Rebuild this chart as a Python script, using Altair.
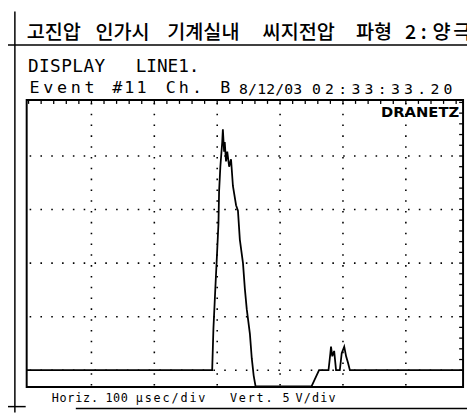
import altair as alt
import pandas as pd

# ---------------- data ----------------
time_us = [-3, 292, 294, 297, 300, 302, 303, 305, 308, 309,
           311, 312, 314, 316, 319, 322, 325, 330, 333, 336,
           341, 344, 347, 352, 355, 358, 361, 450, 462, 477,
           480, 481, 483, 486, 489, 495, 498, 502, 505, 508,
           511, 690]
volts = [0, 0, 3.9, 7.6, 11.2, 13.7, 16.7, 19.0, 21.3, 22.5,
         20.4, 21.3, 19.5, 20.4, 19.0, 19.7, 17.2, 15.4, 14.9, 12.2,
         10.0, 7.6, 5.7, 3.4, 1.1, -0.5, -1.5, -1.5, 0, 0,
         1.6, 2.2, 1.3, 1.8, 0, 0, 1.6, 2.2, 1.3, 0.7,
         0, 0]
x_grid_us = [100, 200, 300, 400, 500, 600]
y_grid_v = [0, 5, 10, 15, 20]
x_domain = [-3, 691]
y_domain = [-1.56, 25.23]

title_words = ["고진압", "인가시", "기계실내", "씨지전압", "파형", "2", ":", "양", "극"]
header1_tokens = ["DISPLAY", "LINE1."]
header2_tokens = ["Event", "#11", "Ch.", "B", "8/12/03", "02:33:33.20"]
footer_tokens = ["Horiz.", "100", "µsec/div", "Vert.", "5", "V/div"]
brand_text = "DRANETZ"

# ---------------- layout (image pixel positions) ----------------
W, H = 444, 292
OX, OY = 27, 98          # image position of the plot's top-left corner
PAD_L, PAD_T = OX - 8, OY - 8
SVG_H = 408


def vx(px):
    return px - OX


def vy(py):
    return py - OY


title_x = [27, 97, 170, 267, 362, 412, 428, 440, 461]
header1_layout = [(28, 11.3), (138, 10.8)]
header2_layout = [(28, 14.0), (113, 12.3), (167, 13.3), (223, 12.0), (243, 9.2), (315, 13.4)]
footer_layout = [(52, 8.0), (107, 7.7), (137, 9.1), (233, 9.0), (287, 8.0), (300, 8.4)]


def char_rows(tokens, layout, base_y, size):
    rows = []
    for tok, (x0, pitch) in zip(tokens, layout):
        for i, ch in enumerate(tok):
            rows.append({"ch": ch, "px": vx(x0 + (i + 0.5) * pitch), "py": vy(base_y), "size": size})
    return rows


chars = pd.DataFrame(
    char_rows(header1_tokens, header1_layout, 70, 18)
    + char_rows(header2_tokens, header2_layout[:4], 91, 17)
    + char_rows(header2_tokens[4:], header2_layout[4:], 92, 15)
    + char_rows(footer_tokens, footer_layout, 405, 12)
)

title_df = pd.DataFrame({"w": title_words, "px": [vx(x) for x in title_x], "py": [vy(36)] * len(title_words)})

deco = pd.DataFrame({
    "x": [vx(0), vx(15), vx(0), vx(77)],
    "x2": [vx(475), vx(15), vx(26), vx(475)],
    "y": [vy(42), vy(8), vy(410), vy(412)],
    "y2": [vy(42), vy(8 + SVG_H), vy(410), vy(412)],
})

trace = pd.DataFrame({"t": time_us, "v": volts, "i": range(len(time_us))})

xs = alt.Scale(domain=x_domain, nice=False, zero=False)
ys = alt.Scale(domain=y_domain, nice=False, zero=False)

vgrid = alt.Chart(pd.DataFrame({"t": x_grid_us})).mark_rule(
    color="black", strokeWidth=1.6, strokeDash=[1.6, 9.4]
).encode(x=alt.X("t:Q", scale=xs, axis=None), y=alt.value(3), y2=alt.value(H))

hgrid = alt.Chart(pd.DataFrame({"v": y_grid_v})).mark_rule(
    color="black", strokeWidth=1.6, strokeDash=[1.6, 9.4]
).encode(y=alt.Y("v:Q", scale=ys, axis=None), x=alt.value(3), x2=alt.value(W))

line = alt.Chart(trace).mark_line(color="black", strokeWidth=1.8).encode(
    x=alt.X("t:Q", scale=xs, axis=None),
    y=alt.Y("v:Q", scale=ys, axis=None),
    order="i:Q",
)

top_ticks = alt.Chart(pd.DataFrame({"t": list(range(0, 691, 20))})).mark_rule(color="black", strokeWidth=1.3).encode(
    x=alt.X("t:Q", scale=xs, axis=None), y=alt.value(0), y2=alt.value(4)
)
right_ticks = alt.Chart(pd.DataFrame({"v": list(range(0, 26, 1))})).mark_rule(color="black", strokeWidth=1.3).encode(
    y=alt.Y("v:Q", scale=ys, axis=None), x=alt.value(W), x2=alt.value(W - 4)
)

deco_lines = alt.Chart(deco).mark_rule(color="black", strokeWidth=1.5).encode(
    x=alt.X("x:Q", scale=None), x2="x2:Q", y=alt.Y("y:Q", scale=None), y2="y2:Q"
)

char_text = alt.Chart(chars).mark_text(font="DejaVu Sans Mono", align="center", baseline="alphabetic",
                                       color="black").encode(
    x=alt.X("px:Q", scale=None), y=alt.Y("py:Q", scale=None), text="ch:N",
    size=alt.Size("size:Q", scale=None, legend=None)
)

title_text = alt.Chart(title_df).mark_text(font="Noto Sans CJK KR", fontSize=20, fontWeight=500, align="left",
                                           baseline="alphabetic", color="black").encode(
    x=alt.X("px:Q", scale=None), y=alt.Y("py:Q", scale=None), text="w:N"
)

brand = alt.Chart(pd.DataFrame({"b": [brand_text]})).mark_text(
    font="DejaVu Sans", fontSize=15, fontWeight="bold", align="right", baseline="alphabetic", color="black"
).encode(x=alt.value(vx(467)), y=alt.value(vy(115)), text="b:N")

chart = alt.layer(vgrid, hgrid, line, top_ticks, right_ticks, deco_lines, char_text, title_text, brand).properties(
    width=W, height=H,
    padding={"left": PAD_L, "top": PAD_T, "right": 467 - PAD_L - W, "bottom": SVG_H - PAD_T - H},
    autosize=alt.AutoSizeParams(type="none"),
    background="white",
).configure_view(stroke="black", strokeWidth=2)

chart.save("out.html", embed_options={"renderer": "svg", "actions": False})
